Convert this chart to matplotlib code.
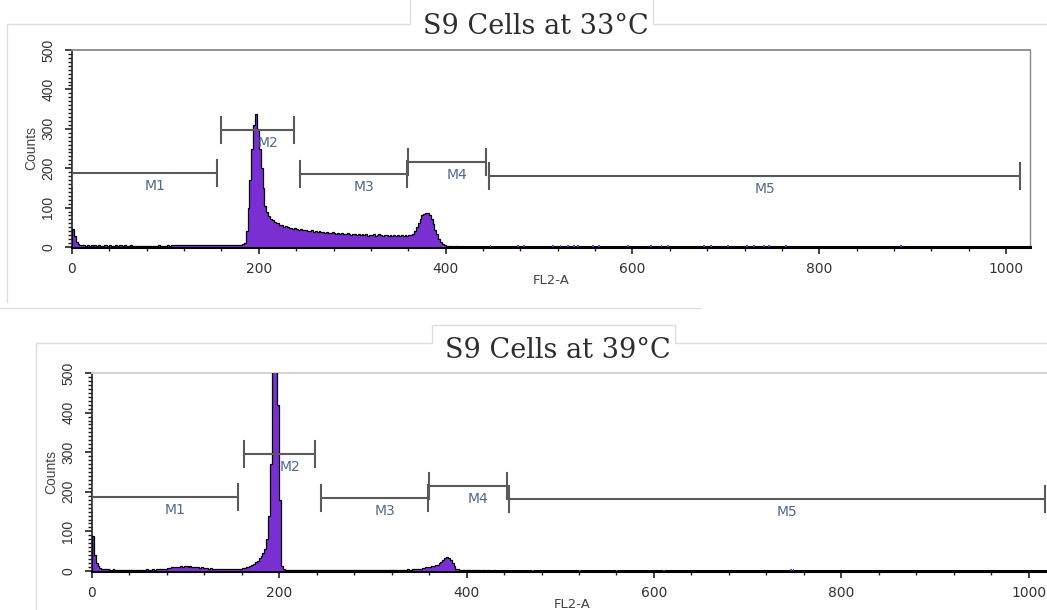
import numpy as np
import matplotlib
matplotlib.use("Agg")
import matplotlib.pyplot as plt
from matplotlib.lines import Line2D
from matplotlib.ticker import MultipleLocator

# ---------------- data ----------------
BIN = 2  # channel width of each histogram bin
# S9 cells at 33 C : counts per 2-channel bin, channels 0..459
counts33 = [
    45, 28, 12, 8, 6, 5, 4, 3, 4, 3,
    4, 3, 5, 3, 4, 2, 3, 4, 5, 3,
    4, 3, 3, 4, 3, 5, 4, 3, 4, 3,
    3, 4, 2, 3, 3, 2, 3, 2, 3, 3,
    2, 3, 3, 2, 3, 3, 4, 3, 3, 2,
    3, 4, 3, 4, 5, 4, 5, 4, 5, 6,
    5, 6, 5, 4, 5, 6, 5, 4, 5, 4,
    6, 5, 6, 5, 4, 6, 5, 4, 5, 4,
    5, 4, 5, 4, 5, 5, 4, 5, 6, 5,
    6, 7, 10, 40, 100, 170, 250, 310, 338, 300,
    250, 200, 150, 105, 88, 78, 72, 68, 64, 62,
    60, 56, 55, 52, 54, 50, 48, 49, 46, 47,
    45, 44, 46, 43, 42, 44, 41, 40, 42, 39,
    40, 38, 40, 37, 38, 36, 39, 36, 35, 37,
    35, 34, 36, 33, 35, 34, 32, 35, 33, 31,
    34, 32, 30, 33, 31, 32, 30, 33, 29, 31,
    30, 32, 29, 31, 33, 30, 28, 31, 30, 29,
    31, 29, 30, 28, 31, 29, 30, 28, 30, 29,
    31, 30, 34, 40, 50, 62, 72, 80, 85, 87,
    86, 80, 70, 58, 44, 32, 20, 12, 7, 4,
    3, 2, 2, 1, 1, 2, 1, 1, 0, 1,
    1, 0, 1, 0, 1, 1, 0, 1, 0, 1,
    0, 1, 0, 1, 0, 0, 1, 0, 0, 1,
]
# sparse single events further right (channel, count)
events33_ch = [447, 476, 483, 514, 522, 530, 536, 541, 557, 563, 594, 619,
               630, 637, 676, 683, 701, 722, 729, 740, 745, 763, 886]
events33_n = [4] * len(events33_ch)

# S9 cells at 39 C : counts per 2-channel bin, channels 0..459
counts39 = [
    88, 40, 20, 12, 8, 6, 5, 4, 4, 3,
    3, 4, 3, 3, 2, 3, 3, 2, 3, 2,
    3, 2, 3, 2, 3, 3, 2, 3, 3, 4,
    3, 3, 4, 3, 4, 4, 5, 4, 5, 6,
    7, 8, 9, 10, 9, 11, 10, 12, 11, 13,
    12, 11, 12, 10, 11, 9, 10, 8, 9, 7,
    8, 7, 6, 7, 6, 5, 6, 5, 5, 4,
    5, 4, 5, 4, 5, 5, 6, 5, 6, 6,
    7, 7, 9, 10, 12, 15, 18, 22, 26, 32,
    38, 46, 56, 80, 140, 270, 520, 520, 520, 420,
    180, 12, 4, 3, 3, 2, 3, 3, 2, 3,
    3, 2, 3, 3, 2, 3, 2, 3, 3, 2,
    3, 3, 2, 3, 2, 3, 3, 2, 3, 3,
    2, 3, 3, 2, 3, 3, 2, 3, 2, 3,
    3, 2, 3, 3, 2, 3, 3, 2, 3, 3,
    2, 3, 3, 2, 3, 3, 3, 2, 3, 3,
    2, 3, 3, 3, 2, 3, 3, 3, 4, 3,
    3, 4, 4, 5, 6, 6, 7, 8, 9, 10,
    11, 12, 13, 14, 16, 19, 23, 28, 33, 36,
    34, 28, 20, 12, 6, 4, 3, 3, 2, 3,
    2, 3, 2, 2, 3, 2, 2, 1, 2, 2,
    1, 2, 1, 1, 2, 1, 1, 1, 0, 1,
    1, 0, 1, 1, 0, 1, 0, 0, 1, 0,
]
events39_ch = [470, 520, 560, 610, 745, 748]
events39_n = [3, 3, 3, 3, 5, 5]

# marker gates: name, start channel, end channel, level (counts)
gate_names = ["M1", "M2", "M3", "M4", "M5"]
gate_start33 = [0, 160, 244, 360, 446]
gate_end33 = [155, 238, 359, 443, 1015]
gate_level33 = [188, 297, 185, 216, 180]
gate_start39 = [0, 162, 245, 360, 445]
gate_end39 = [156, 238, 359, 443, 1017]
gate_level39 = [187, 295, 184, 215, 182]

titles = ["S9 Cells at 33°C", "S9 Cells at 39°C"]
x_ticks = [0, 200, 400, 600, 800, 1000]
y_ticks = [0, 100, 200, 300, 400, 500]

# ---------------- style ----------------
PURPLE = "#7a2fd3"
GATE = "#5a5a5a"
LABEL = "#4f6a8c"
TICKC = "#333333"
FRAME = "#dedede"
NARROW = ["Liberation Sans Narrow", "Liberation Sans", "DejaVu Sans"]

W, H = 1047, 610
fig = plt.figure(figsize=(W / 100, H / 100), dpi=100)
fig.patch.set_facecolor("white")


def fx(px):
    return px / W


def fy(py):
    return 1 - py / H


def fline(xs, ys):
    fig.add_artist(Line2D([fx(v) for v in xs], [fy(v) for v in ys],
                          color=FRAME, lw=1.0, transform=fig.transFigure))


# panel frames (figure-pixel geometry)
fline([7, 7, 410, 410], [302, 24, 24, 0])
fline([653, 653, 1047], [0, 24, 24])
fline([0, 700], [308, 308])
fline([36, 36, 432, 432, 675, 675, 1047], [610, 343, 343, 325, 325, 343, 343])


def draw_panel(rect, counts, ev_ch, ev_n, gs, ge, gl, title, title_xy, top_spine_col):
    ax = fig.add_axes(rect)
    edges = np.arange(0, BIN * len(counts) + 1, BIN)
    ax.stairs(counts, edges, fill=True, color=PURPLE, zorder=3, lw=0)
    ax.stairs(counts, edges, color="black", lw=0.9, zorder=3.2)
    ev_ch = np.asarray(ev_ch)
    ax.bar(ev_ch, ev_n, width=BIN, align="edge", color=PURPLE, zorder=3.5, lw=0)

    ax.set_xlim(0, 1025)
    ax.set_ylim(0, 500)

    # gates
    cap = 33
    for name, s, e, lv in zip(gate_names, gs, ge, gl):
        ax.plot([s, e], [lv, lv], color=GATE, lw=1.5, zorder=4, solid_capstyle="butt")
        ax.plot([s, s], [lv - cap, lv + cap], color=GATE, lw=1.5, zorder=4)
        ax.plot([e, e], [lv - cap, lv + cap], color=GATE, lw=1.5, zorder=4)
        ax.text((s + e) / 2, lv - 32, name, ha="left", va="center",
                fontsize=10, color=LABEL, family="DejaVu Sans", zorder=5)

    ax.set_xticks(x_ticks)
    ax.set_yticks(y_ticks)
    ax.xaxis.set_minor_locator(MultipleLocator(40))
    ax.yaxis.set_minor_locator(MultipleLocator(10))
    ax.tick_params(axis="both", which="major", direction="out", length=5, width=1.2,
                   color="#222222", labelcolor=TICKC)
    ax.tick_params(axis="both", which="minor", direction="out", length=3, width=1.0,
                   color="#222222")
    ax.tick_params(axis="x", which="major", pad=6, labelsize=10)
    ax.tick_params(axis="y", which="major", pad=7, labelsize=10)
    for lab in ax.get_xticklabels():
        lab.set_family("DejaVu Sans")
    for lab in ax.get_yticklabels():
        lab.set_rotation(90)
        lab.set_va("center")
        lab.set_family(NARROW)

    ax.set_xlabel("FL2-A", fontsize=9.5, color="#444444", family="DejaVu Sans", labelpad=-2)
    ax.set_ylabel("Counts", fontsize=10, color="#444444", family=NARROW, labelpad=2)

    ax.spines["bottom"].set_linewidth(2.2)
    ax.spines["bottom"].set_color("black")
    ax.spines["left"].set_linewidth(1.2)
    ax.spines["left"].set_color("#222222")
    ax.spines["top"].set_color(top_spine_col)
    ax.spines["right"].set_color(top_spine_col)
    ax.spines["top"].set_linewidth(1.3)
    ax.spines["right"].set_linewidth(1.0)

    fig.text(fx(title_xy[0]), fy(title_xy[1]), title, ha="center", va="center",
             fontsize=19.5, color="#2e2e2e", family="DejaVu Serif")
    return ax


ax1 = draw_panel([fx(72), fy(247), (1029.5 - 72) / W, (247 - 50) / H],
                 counts33, events33_ch, events33_n,
                 gate_start33, gate_end33, gate_level33,
                 titles[0], (536, 27), "#8a8a8a")
ax2 = draw_panel([fx(92), fy(571), (1052 - 92) / W, (571 - 373) / H],
                 counts39, events39_ch, events39_n,
                 gate_start39, gate_end39, gate_level39,
                 titles[1], (558, 350), "#d0d0d0")

fig.savefig("out.png", dpi=100, facecolor="white")
